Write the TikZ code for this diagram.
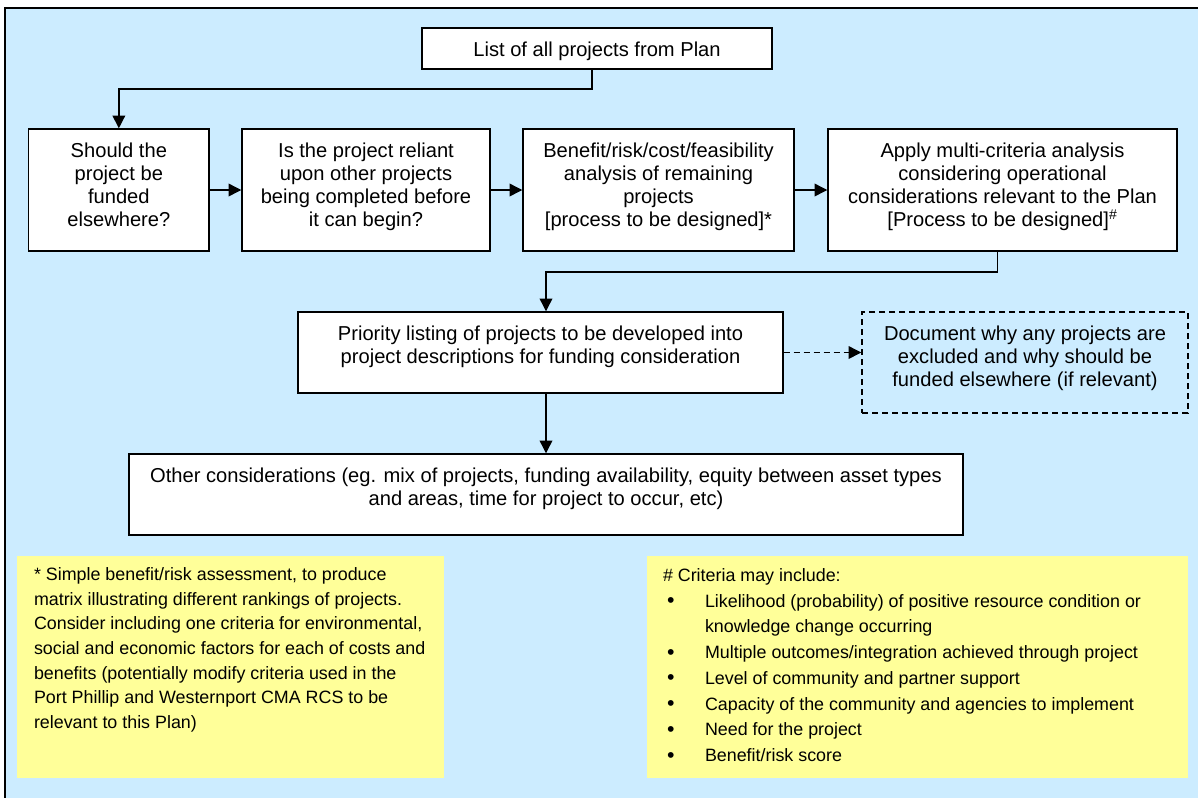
\documentclass[tikz,border=0pt]{standalone}
\usepackage{fontspec}
\setmainfont{Liberation Sans}
\usetikzlibrary{arrows.meta,fit,calc}
\definecolor{bgblue}{RGB}{204,236,255}
\definecolor{noteyellow}{RGB}{255,255,153}
\newcommand{\notebullet}{\makebox[31.5pt][l]{\hspace{3pt}\raisebox{-0.3pt}{\fontsize{16}{16}\selectfont •}}}
\begin{document}
\begin{tikzpicture}[x=0.75pt,y=-0.75pt,
  frame/.style={draw=black, line width=1.1pt, fill=white, inner sep=0pt},
  dframe/.style={draw=black, line width=1.1pt, dash pattern=on 4.5pt off 3pt, inner sep=0pt},
  note/.style={fill=noteyellow, draw=none, inner sep=0pt},
  txt/.style={font=\fontsize{15.1}{17.25}\selectfont, align=center, inner sep=0pt, anchor=north},
  notetxtA/.style={font=\fontsize{13.4}{18.5}\selectfont, align=left, inner sep=0pt, anchor=north west},
  notetxtB/.style={font=\fontsize{13.4}{19.3}\selectfont, align=left, inner sep=0pt, anchor=north west},
  arr/.style={line width=1pt, -{Triangle[length=9.5pt,width=9.5pt]}},
  darr/.style={arr, dash pattern=on 4.5pt off 3pt},
]
\useasboundingbox (0,0) rectangle (1198,797);
\clip (0,0) rectangle (1198,797);
\fill[white] (0,0) rectangle (1198,797);
\draw[fill=bgblue, line width=1.1pt] (5,8) rectangle (1210,810);

% process boxes
\node[frame, fit={(422,28) (772,69)}] (L) {};
\node[txt] at ([yshift=-10.7pt]L.north) {List of all projects from Plan};

\node[frame, fit={(28.7,129) (209,251)}] (b1) {};
\node[txt] at ([yshift=-10.7pt]b1.north) {Should the\\project be\\funded\\elsewhere?};

\node[frame, fit={(242,129) (490,251)}] (b2) {};
\node[txt] at ([yshift=-10.7pt]b2.north) {Is the project reliant\\upon other projects\\being completed before\\it can begin?};

\node[frame, fit={(523,129) (794,251)}] (b3) {};
\node[txt] at ([yshift=-10.7pt]b3.north) {Benefit/risk/cost/feasibility\\analysis of remaining\\projects\\{[}process to be designed{]}*};

\node[frame, fit={(828,129) (1177,251)}] (b4) {};
\node[txt] at ([yshift=-10.7pt]b4.north) {Apply multi-criteria analysis\\considering operational\\considerations relevant to the Plan\\{[}Process to be designed{]}\textsuperscript{\#}};

\node[frame, fit={(298,312) (783,393)}] (P) {};
\node[txt] at ([yshift=-10.7pt]P.north) {Priority listing of projects to be developed into\\project descriptions for funding consideration};

\node[dframe, fit={(862,312) (1188,413)}] (D) {};
\node[txt] at ([yshift=-10.7pt]D.north) {Document why any projects are\\excluded and why should be\\funded elsewhere (if relevant)};

\node[frame, fit={(129,454) (963,535)}] (O) {};
\node[txt] at ([yshift=-10.7pt]O.north) {Other considerations (eg. mix of projects, funding availability, equity between asset types\\and areas, time for project to occur, etc)};

% notes
\node[note, fit={(17,556) (444,778)}] (Y1) {};
\node[notetxtA] at ([xshift=12.75pt,yshift=-8.7pt]Y1.north west) {* Simple benefit/risk assessment, to produce\\matrix illustrating different rankings of projects.\\Consider including one criteria for environmental,\\social and economic factors for each of costs and\\benefits (potentially modify criteria used in the\\Port Phillip and Westernport CMA RCS to be\\relevant to this Plan)};

\node[note, fit={(647,556) (1188,778)}] (Y2) {};
\node[notetxtB] at ([xshift=12pt,yshift=-9.4pt]Y2.north west) {\# Criteria may include:\\
\notebullet Likelihood (probability) of positive resource condition or\\
\hspace*{31.5pt}knowledge change occurring\\
\notebullet Multiple outcomes/integration achieved through project\\
\notebullet Level of community and partner support\\
\notebullet Capacity of the community and agencies to implement\\
\notebullet Need for the project\\
\notebullet Benefit/risk score};

% connectors
\coordinate (j1) at (0,89);
\coordinate (j2) at (0,272);
\draw[arr] ([xshift=-3.75pt]L.south) -- ([xshift=-3.75pt]L.south |- j1) -| (b1.north);
\draw[arr] (b1.east) -- (b2.west);
\draw[arr] (b2.east) -- (b3.west);
\draw[arr] (b3.east) -- (b4.west);
\draw[arr] ([xshift=-3.75pt]b4.south) -- ([xshift=-3.75pt]b4.south |- j2) -| (P.north -| O.north);
\draw[arr] (P.south -| O.north) -- (O.north);
\draw[darr] (P.east) -- (P.east -| D.west);
\end{tikzpicture}
\end{document}
